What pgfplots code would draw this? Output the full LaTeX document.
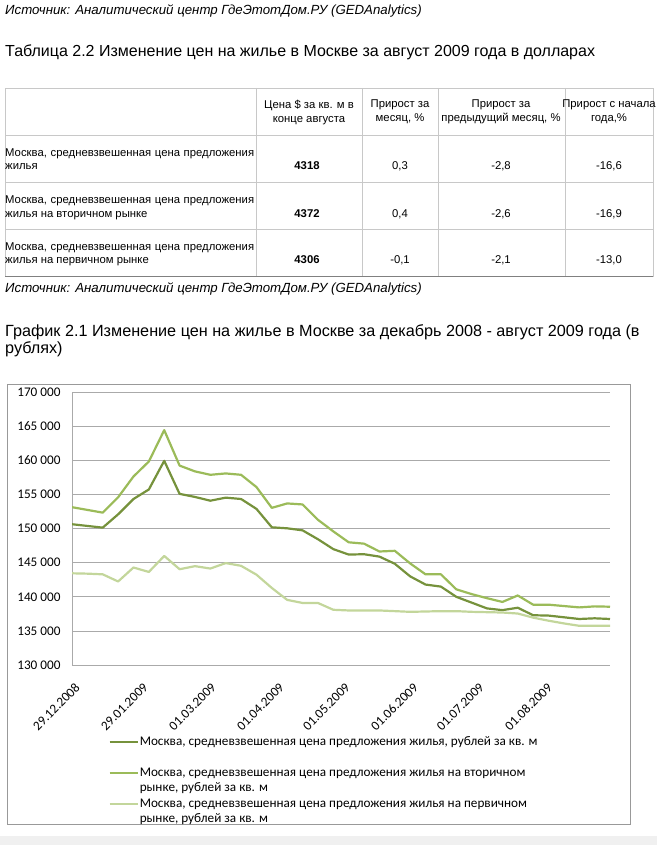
\documentclass[border=0pt]{standalone}
\usepackage{fontspec}
\setmainfont{Liberation Sans}
\newfontfamily\carlito{Carlito}
\usepackage{pgfplots}
\usepackage{pgfplotstable}
\pgfplotsset{compat=1.18}

\definecolor{lnDark}{RGB}{118,146,60}
\definecolor{lnMid}{RGB}{155,187,89}
\definecolor{lnLight}{RGB}{195,214,155}
\definecolor{gridgray}{RGB}{170,170,170}
\definecolor{tblgray}{RGB}{200,200,200}

% weekly prices, rub per sq. m; day = days since 29.12.2008
\pgfplotstableread{
day total second primary
0   150650 153150 143450
7   150400 152750 143400
14  150150 152350 143300
21  152100 154600 142250
28  154350 157650 144300
35  155750 159850 143650
42  159950 164450 146000
49  155100 159250 144050
56  154650 158400 144500
63  154100 157900 144150
70  154550 158100 144950
77  154350 157900 144550
84  152900 156100 143250
91  150200 153050 141300
98  150050 153700 139550
105 149750 153550 139100
112 148450 151300 139100
119 147000 149600 138100
126 146200 148000 138000
133 146250 147800 138000
140 145900 146650 138000
147 144850 146750 137900
154 143000 144900 137800
161 141800 143300 137850
168 141500 143300 137900
175 140000 141100 137900
182 139150 140400 137800
189 138300 139800 137750
196 138050 139250 137700
203 138400 140200 137550
210 137300 138850 136950
217 137250 138850 136500
224 137000 138650 136100
231 136750 138450 135750
238 136850 138600 135750
245 136750 138550 135750
}\prices

\begin{document}
\begin{tikzpicture}
\begin{scope}[x=1pt,y=-1pt]
  \path (0,0) rectangle (657,845);
  \fill[gray!12] (0,836) rectangle (657,845);

  % sources and titles
  \node[anchor=base west, inner sep=0, font=\itshape\fontsize{13.25}{15}\selectfont] at (5,15) {Источник: Аналитический центр ГдеЭтотДом.РУ (GEDAnalytics)};
  \node[anchor=base west, inner sep=0, font=\fontsize{16}{18}\selectfont] at (5,57) {Таблица 2.2 Изменение цен на жилье в Москве за август 2009 года в долларах};

  % table grid
  \draw[tblgray] (5,88) rectangle (653,276);
  \foreach \yy in {135,182,229} \draw[tblgray] (5,\yy) -- (653,\yy);
  \foreach \xx in {256,362,438,565} \draw[tblgray] (\xx,88) -- (\xx,276);
  \draw[gray] (5,276) -- (653,276);

  \begin{scope}[every node/.style={font=\fontsize{11.3}{14}\selectfont, inner sep=0, align=center}]
    \node at (309,112) {Цена \$ за кв. м в\\конце августа};
    \node at (400,112) {Прирост за\\месяц, \%};
    \node at (501,112) {Прирост за\\предыдущий месяц, \%};
    \node at (609,112) {Прирост с начала\\года,\%};
  \end{scope}

  \begin{scope}[every node/.style={font=\fontsize{11.3}{14}\selectfont, inner sep=0}]
    \node[anchor=base west] at (5,157) {\makebox[249pt][s]{Москва, средневзвешенная цена предложения}};
    \node[anchor=base west] at (5,170) {жилья};
    \node[anchor=base west] at (5,204) {\makebox[249pt][s]{Москва, средневзвешенная цена предложения}};
    \node[anchor=base west] at (5,217) {жилья на вторичном рынке};
    \node[anchor=base west] at (5,250) {\makebox[249pt][s]{Москва, средневзвешенная цена предложения}};
    \node[anchor=base west] at (5,263) {жилья на первичном рынке};
    \node[anchor=base] at (307,170) {\bfseries 4318};
    \node[anchor=base] at (307,217) {\bfseries 4372};
    \node[anchor=base] at (307,263) {\bfseries 4306};
    \node[anchor=base] at (400,170) {0,3};
    \node[anchor=base] at (400,217) {0,4};
    \node[anchor=base] at (400,263) {-0,1};
    \node[anchor=base] at (501,170) {-2,8};
    \node[anchor=base] at (501,217) {-2,6};
    \node[anchor=base] at (501,263) {-2,1};
    \node[anchor=base] at (609,170) {-16,6};
    \node[anchor=base] at (609,217) {-16,9};
    \node[anchor=base] at (609,263) {-13,0};
  \end{scope}

  \node[anchor=base west, inner sep=0, font=\itshape\fontsize{13.25}{15}\selectfont] at (5,292) {Источник: Аналитический центр ГдеЭтотДом.РУ (GEDAnalytics)};
  \node[anchor=base west, inner sep=0, font=\fontsize{16.2}{17}\selectfont] at (5,336) {График 2.1 Изменение цен на жилье в Москве за декабрь 2008 - август 2009 года (в};
  \node[anchor=base west, inner sep=0, font=\fontsize{16.2}{17}\selectfont] at (5,353) {рублях)};

  % chart frame
  \draw[gray!80] (7,384) rectangle (630,824);
\end{scope}

\begin{axis}[
  at={(72pt,-665pt)}, anchor=south west,
  scale only axis, width=538pt, height=272.7pt,
  xmin=0, xmax=245, ymin=130000, ymax=170000,
  scaled y ticks=false,
  ytick={130000,135000,140000,145000,150000,155000,160000,165000,170000},
  yticklabels={130 000,135 000,140 000,145 000,150 000,155 000,160 000,165 000,170 000},
  xtick={0,31,62,93,123,154,184,215},
  xticklabels={29.12.2008,29.01.2009,01.03.2009,01.04.2009,01.05.2009,01.06.2009,01.07.2009,01.08.2009},
  axis x line*=bottom, axis y line*=left,
  axis line style={gridgray, line width=0.8pt},
  ymajorgrids, grid style={gridgray, line width=0.8pt},
  major tick length=0pt,
  tick label style={font=\carlito\fontsize{13.2}{15}\selectfont, text=black},
  yticklabel style={xshift=-8pt},
  xticklabel style={xshift=8pt, yshift=-18pt, rotate=45, anchor=east},
  legend style={draw=none, fill=none, at={(axis description cs:0.062,-0.25)}, anchor=north west,
    font=\carlito\fontsize{13.2}{15}\selectfont, row sep=4pt, cells={align=left},
    nodes={inner sep=1pt}},
  legend cell align=left,
  legend image code/.code={\draw[#1] (0pt,7.5pt) -- (28pt,7.5pt);},
  every axis plot/.append style={line width=2.2pt, line join=round},
]
\addplot[lnDark] table[x=day, y=total] {\prices};
\addlegendentry{Москва, средневзвешенная цена предложения жилья, рублей за кв. м\\\strut}
\addplot[lnMid] table[x=day, y=second] {\prices};
\addlegendentry{Москва, средневзвешенная цена предложения жилья на вторичном\\рынке, рублей за кв. м}
\addplot[lnLight] table[x=day, y=primary] {\prices};
\addlegendentry{Москва, средневзвешенная цена предложения жилья на первичном\\рынке, рублей за кв. м}
\end{axis}
\end{tikzpicture}
\end{document}
